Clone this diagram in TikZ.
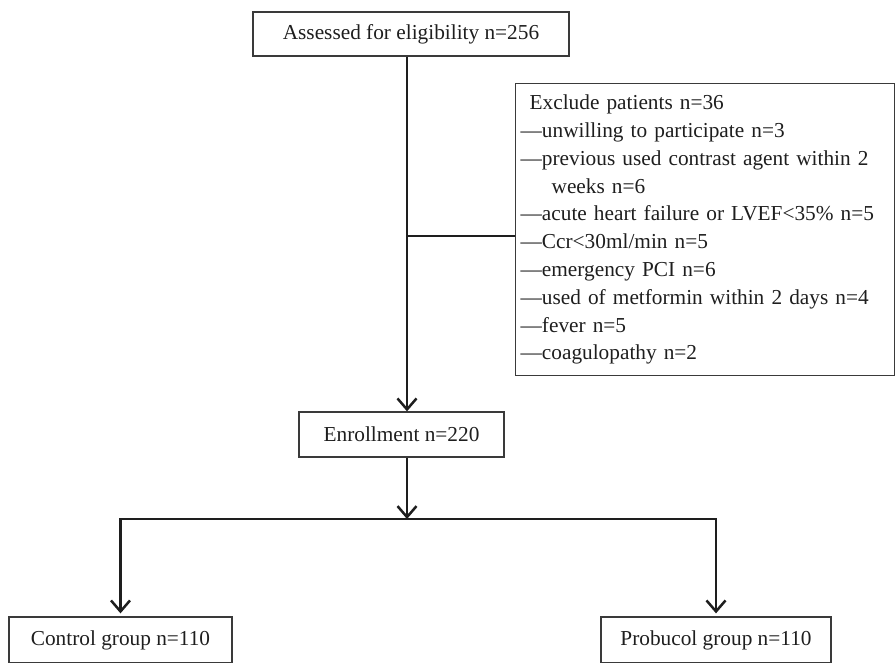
\documentclass[tikz,border=0pt]{standalone}
\usepackage{fontspec}
\setmainfont{Liberation Serif}
\usetikzlibrary{arrows.meta}
\definecolor{ink}{HTML}{1E1E1E}
\definecolor{frame}{HTML}{3A3A3A}
\begin{document}
\begin{tikzpicture}[x=1pt,y=-1pt,
  box/.style={draw=frame, line width=1.3pt, inner sep=0pt, text=ink,
    font=\fontsize{21.3}{27.8}\selectfont},
  conn/.style={draw=ink, line width=2.5pt},
  arr/.style={conn, -{Straight Barb[length=11pt,width=19pt,line width=2.5pt]}}]
\useasboundingbox (0,0) rectangle (896,662);
\clip (0,0) rectangle (896,662);
\node[box, minimum width=316pt, minimum height=44pt] (top) at (411,34) {Assessed for eligibility n=256};
\node[box, anchor=north west, minimum width=379pt, minimum height=292pt,
  text width=369pt, inner xsep=5pt, align=left] (ex) at (515,83) {%
\hspace*{9pt}Exclude patients n=36\\
—unwilling to participate n=3\\
\makebox[369pt][s]{—previous used contrast agent within 2}\\
\hspace*{31pt}weeks n=6\\
—acute heart failure or LVEF<35\% n=5\\
—Ccr<30ml/min n=5\\
—emergency PCI n=6\\
—used of metformin within 2 days n=4\\
—fever n=5\\
—coagulopathy n=2};
\node[box, minimum width=205pt, minimum height=45pt] (ent) at (401.5,434.5) {Enrollment n=220};
\node[box, minimum width=223pt, minimum height=46pt] (ctrl) at (120.5,640) {Control group n=110};
\node[box, minimum width=230pt, minimum height=46pt] (prob) at (716,640) {Probucol group n=110};
\coordinate (m) at (407,0);
\coordinate (j) at (407,236);
\coordinate (br) at (407,519);
\draw[arr] (m |- top.south) -- (m |- ent.north);
\draw[conn] (j) -- (j -| ex.west);
\draw[arr] (m |- ent.south) -- (br);
\draw[arr, shorten >=3pt] (br) -| (ctrl.north);
\draw[arr, shorten >=3pt] (br) -| (prob.north);
\end{tikzpicture}
\end{document}
